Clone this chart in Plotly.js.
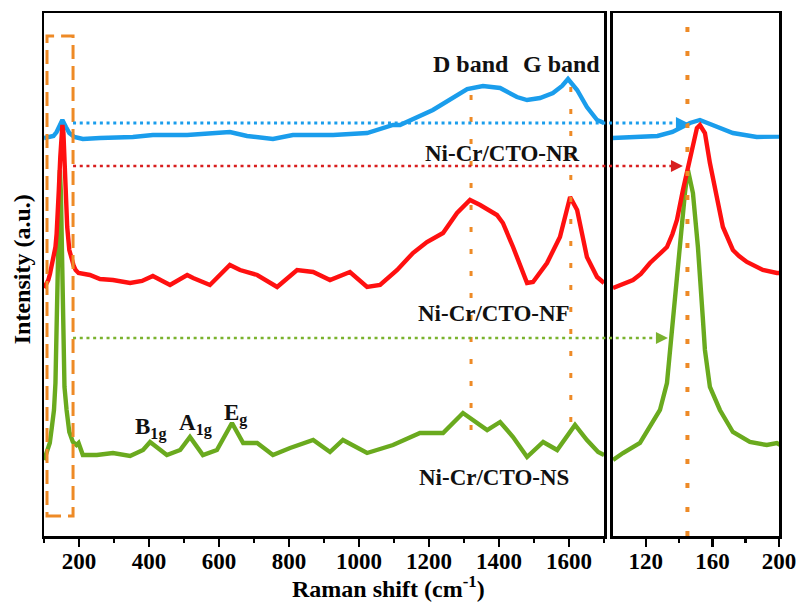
<!DOCTYPE html>
<html><head><meta charset="utf-8">
<script src="https://cdn.plot.ly/plotly-3.0.1.min.js"></script>
<style>html,body{margin:0;padding:0;background:#fff}#chart{width:798px;height:603px}</style>
</head><body><div id="chart"></div>
<script>
// ---- data (Raman shift in cm-1, intensity in arbitrary units, offset stacked) ----
const shiftNR = [100,110,127,136,146.5,152.5,162.7,172.3,186.6,198.7,211,260,354,411,509,631,680,754,811,926,1023,1097,1117,1211,1260,1309,1354,1403,1451,1480,1517,1554,1580,1597,1623,1651,1680,1700];
const intensityNR = [398,399,400,404,413,416,409,403,399,398,397,398,399,401,401,404,400,397,401,401,403,411,411,426,437,447,450,448,439,436,438,443,450,457,446,429,416,413];

const shiftNF = [100.3,106,112.3,117,122.5,127,132.7,136,138.7,142.3,146.5,150.7,152.5,155.5,158.5,162.7,166.3,172.3,176,180.7,185,190.3,198.7,231,260,297,346,380,411,460,509,526,574,631,660,709,766,823,869,917,974,1023,1060,1109,1154,1194,1240,1280,1317,1346,1370,1394,1411,1440,1480,1497,1537,1574,1603,1623,1651,1680,1700];
const intensityNF = [248,252,256,262,273,280,289,302,316,346,379,408,411,403,373,339,309,286,280,274,270,266,263,261,257,256,253,255,260,251,261,258,251,271,266,261,249,266,264,256,264,249,251,266,283,294,303,323,336,331,326,321,313,289,253,254,273,299,339,326,279,259,253];

const shiftNS = [100.3,106.3,116.5,122.5,128.5,132.7,134.5,136.3,137.5,140.5,143.5,145.3,148.3,151.3,153.5,154.2,155.5,158.5,164.5,172.3,182.5,192.7,198.7,211,251,297,346,383,403,423,451,489,517,554,594,637,669,709,754,803,869,917,954,1023,1097,1174,1240,1297,1326,1366,1403,1440,1480,1526,1566,1617,1651,1683,1700];
const intensityNS = [76,83,93,109,126,153,186,219,243,296,343,366,343,289,243,219,186,149,126,104,94,91,93,81,81,83,80,86,94,89,81,86,99,81,86,113,93,93,81,88,96,84,96,83,91,103,103,123,116,106,114,99,79,94,86,111,96,84,81];

const seriesNames = ['Ni-Cr/CTO-NR','Ni-Cr/CTO-NF','Ni-Cr/CTO-NS'];
const leftTicks = [200,400,600,800,1000,1200,1400,1600];
const leftMinor = [100,300,500,700,900,1100,1300,1500,1700];
const rightTicks = [120,160,200];
const rightMinor = [140,180];
const dBand = 1320, gBand = 1605, mainPeak = 145;

// ---- styling ----
const FONT = 'Liberation Serif, "Times New Roman", serif';
const BLUE = '#1A9DEC', RED = '#FF1010', GREEN = '#6AAA1E', ORANGE = '#EE8A26';
const xDomL = [0, 0.762], xDomR = [0.7735, 1];
const xRangeL = [100, 1700], xRangeR = [100, 200];
const toPaperL = v => xDomL[0] + (v - xRangeL[0]) / (xRangeL[1] - xRangeL[0]) * (xDomL[1] - xDomL[0]);
const toPaperR = v => xDomR[0] + (v - xRangeR[0]) / (xRangeR[1] - xRangeR[0]) * (xDomR[1] - xDomR[0]);

const series = [
  {x: shiftNS, y: intensityNS, c: GREEN},
  {x: shiftNR, y: intensityNR, c: BLUE},
  {x: shiftNF, y: intensityNF, c: RED}
];
const traces = [];
series.forEach(s => {
  ['x','x2'].forEach(ax => traces.push({
    type: 'scatter', mode: 'lines', x: s.x, y: s.y, xaxis: ax, yaxis: 'y',
    line: {color: s.c, width: 4.4}, hoverinfo: 'skip'
  }));
});

const axisCommon = {
  anchor: 'y', showline: true, linecolor: '#000', linewidth: 2.5, mirror: true,
  ticks: 'outside', ticklen: 8, tickwidth: 2.5, tickcolor: '#000',
  tickmode: 'array', showgrid: false, zeroline: false, ticklabelstandoff: -5,
  tickfont: {family: FONT, size: 23, color: '#000', weight: 'bold'}
};

const labelFont = {family: FONT, size: 23, color: '#111', weight: 'bold'};
const ann = (text, x, y, extra) => Object.assign({text, x, y, xref: 'x', yref: 'y', showarrow: false, font: labelFont}, extra || {});
const arrowLevels = [
  {y: 413, tip: 145.3, c: BLUE, w: 3},
  {y: 370, tip: 142.3, c: '#D81E1E', w: 2.6},
  {y: 198, tip: 133.3, c: '#7AB22E', w: 2.6}
];

const shapes = [
  {type: 'rect', xref: 'x', yref: 'y', x0: 108.6, x1: 183, y0: 20, y1: 500, line: {color: ORANGE, width: 3, dash: '14px,7px'}},
  {type: 'line', xref: 'x', yref: 'y', x0: dBand, x1: dBand, y0: 106, y1: 449, line: {color: ORANGE, width: 3, dash: '5px,17px'}},
  {type: 'line', xref: 'x', yref: 'y', x0: gBand, x1: gBand, y0: 114, y1: 458, line: {color: ORANGE, width: 3, dash: '5px,17px'}},
  {type: 'line', xref: 'x2', yref: 'y', x0: mainPeak, x1: mainPeak, y0: 0, y1: 523, line: {color: ORANGE, width: 4, dash: '5px,19px'}}
];
arrowLevels.forEach(a => shapes.push({
  type: 'line', xref: 'paper', yref: 'y', x0: toPaperL(183), x1: toPaperR(a.tip - 4), y0: a.y, y1: a.y,
  line: {color: a.c, width: a.w, dash: '3px,3.7px'}
}));

const annotations = [
  ann('D band', 1320, 472, {font: Object.assign({}, labelFont, {size: 24})}),
  ann('G band', 1577, 472, {font: Object.assign({}, labelFont, {size: 24})}),
  ann(seriesNames[0], 1411, 383),
  ann(seriesNames[1], 1386, 223),
  ann(seriesNames[2], 1386, 59),
  ann('B<sub>1g</sub>', 403, 108),
  ann('A<sub>1g</sub>', 534, 112),
  ann('E<sub>g</sub>', 646, 122),
  {text: 'Raman shift (cm<sup>-1</sup>)', xref: 'paper', yref: 'paper', x: 0.469, y: -0.097,
   xanchor: 'center', yanchor: 'middle', showarrow: false,
   font: {family: FONT, size: 24, color: '#000', weight: 'bold'}},
  {text: 'Intensity (a.u.)', xref: 'paper', yref: 'paper', x: -0.030, y: 0.51, textangle: -90,
   xanchor: 'center', yanchor: 'middle', showarrow: false,
   font: {family: FONT, size: 24, color: '#000', weight: 'bold'}}
];
arrowLevels.forEach(a => annotations.push({
  text: '', xref: 'x2', yref: 'y', x: a.tip, y: a.y, ax: -10, ay: 0, showarrow: true,
  arrowhead: 2, arrowsize: 2.4, arrowwidth: 1, arrowcolor: a.c, standoff: 0
}));

const layout = {
  width: 798, height: 603, margin: {l: 44, r: 19, t: 13, b: 67},
  paper_bgcolor: '#fff', plot_bgcolor: '#fff', showlegend: false,
  font: {family: FONT, size: 23, color: '#000'},
  xaxis: Object.assign({}, axisCommon, {domain: xDomL, range: xRangeL, tickvals: leftTicks,
    minor: {ticks: 'outside', ticklen: 4, tickwidth: 2.5, tickcolor: '#000', tickmode: 'array', tickvals: leftMinor}}),
  xaxis2: Object.assign({}, axisCommon, {domain: xDomR, range: xRangeR, tickvals: rightTicks,
    minor: {ticks: 'outside', ticklen: 4, tickwidth: 2.5, tickcolor: '#000', tickmode: 'array', tickvals: rightMinor}}),
  yaxis: {domain: [0, 1], range: [0, 523], anchor: 'x', showline: true, mirror: 'all', linecolor: '#000', linewidth: 2.5,
    showticklabels: false, ticks: '', showgrid: false, zeroline: false},
  shapes, annotations
};

Plotly.newPlot('chart', traces, layout, {displayModeBar: false, staticPlot: true});
</script></body></html>
